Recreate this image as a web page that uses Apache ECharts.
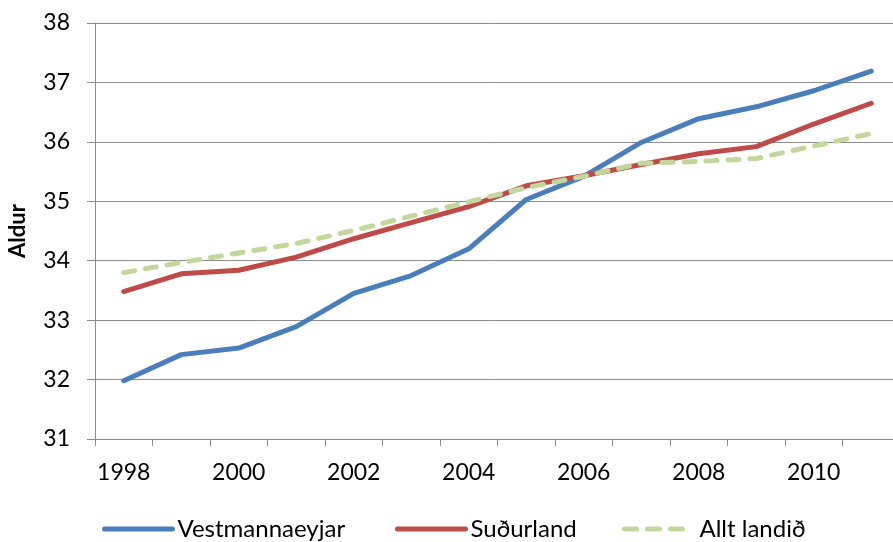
<!DOCTYPE html>
<html>
<head>
<meta charset="utf-8">
<script src="https://cdn.jsdelivr.net/npm/echarts@6/dist/echarts.min.js"></script>
<style>
html,body{margin:0;padding:0;background:#fff;}
#chart{width:893px;height:542px;}
</style>
</head>
<body>
<div id="chart"></div>
<script>
const years = ['1998','1999','2000','2001','2002','2003','2004','2005','2006','2007','2008','2009','2010','2011'];
const vestmannaeyjar = [31.98, 32.42, 32.53, 32.89, 33.45, 33.75, 34.20, 35.03, 35.42, 35.99, 36.39, 36.59, 36.86, 37.19];
const sudurland = [33.48, 33.78, 33.84, 34.06, 34.37, 34.64, 34.91, 35.26, 35.43, 35.62, 35.80, 35.92, 36.30, 36.65];
const alltLandid = [33.80, 33.97, 34.13, 34.29, 34.51, 34.75, 34.99, 35.23, 35.42, 35.64, 35.67, 35.72, 35.93, 36.14];
const yTitle = 'Aldur';
const names = ['Vestmannaeyjar', 'Suðurland', 'Allt landið'];

const font = 'Lato, "Open Sans", sans-serif';
const legendLefts = [102, 395, 622];
const legendWidths = [68, 68, 70];
const legendDash = ['solid', 'solid', [12, 11, 12, 11, 12, 40]];
const chart = echarts.init(document.getElementById('chart'), null, {renderer: 'canvas'});
chart.setOption({
  animation: false,
  backgroundColor: '#fff',
  grid: {left: 95, top: 23, height: 416, width: 805, containLabel: false, outerBoundsMode: 'none'},
  legend: names.map((n, i) => ({
    left: legendLefts[i], top: 517, padding: 0,
    itemWidth: legendWidths[i], itemHeight: 24, itemGap: 0,
    textStyle: {fontFamily: font, fontSize: 24, color: '#000'},
    itemStyle: {opacity: 0},
    lineStyle: {width: 5, cap: 'round', type: legendDash[i]},
    data: [n]
  })),
  xAxis: {
    type: 'category',
    data: years,
    boundaryGap: true,
    axisLine: {lineStyle: {color: '#8c8c8c', width: 1}},
    axisTick: {show: true, interval: 0, length: 7, lineStyle: {color: '#8c8c8c'}},
    axisLabel: {interval: 1, margin: 22, fontFamily: font, fontSize: 23, color: '#000'},
    splitLine: {show: false}
  },
  yAxis: {
    type: 'value',
    min: 31, max: 38, interval: 1,
    name: yTitle,
    nameLocation: 'middle',
    nameGap: 66,
    nameTextStyle: {fontFamily: font, fontSize: 22, fontWeight: 'bold', color: '#000'},
    axisLine: {show: true, lineStyle: {color: '#8c8c8c', width: 1}},
    axisTick: {show: true, length: 8, lineStyle: {color: '#8c8c8c'}},
    axisLabel: {margin: 25, fontFamily: font, fontSize: 23, color: '#000'},
    splitLine: {show: true, lineStyle: {color: '#8c8c8c', width: 1}}
  },
  series: [
    {name: names[0], type: 'line', data: vestmannaeyjar, symbol: 'none',
     lineStyle: {color: '#4A7EBB', width: 5, cap: 'round', join: 'round'}, itemStyle: {color: '#4A7EBB'}},
    {name: names[1], type: 'line', data: sudurland, symbol: 'none',
     lineStyle: {color: '#BE4B48', width: 5, cap: 'round', join: 'round'}, itemStyle: {color: '#BE4B48'}},
    {name: names[2], type: 'line', data: alltLandid, symbol: 'none',
     lineStyle: {color: '#C3D69B', width: 5, type: [11, 11], cap: 'round', join: 'round'}, itemStyle: {color: '#C3D69B'}}
  ]
});
</script>
</body>
</html>
